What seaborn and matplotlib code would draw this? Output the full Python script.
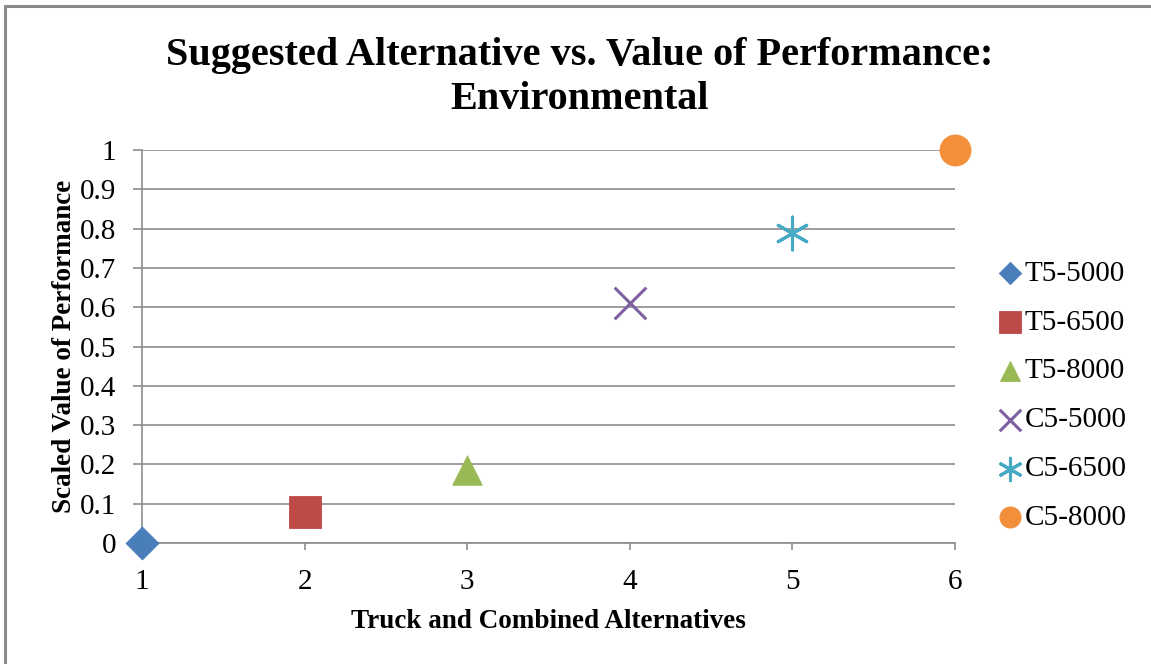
import matplotlib
matplotlib.use("Agg")
import matplotlib.pyplot as plt
from matplotlib.lines import Line2D
import seaborn as sns

# Alternatives and their scaled environmental performance values
alternatives = ["T5-5000", "T5-6500", "T5-8000", "C5-5000", "C5-6500", "C5-8000"]
alt_index = [1, 2, 3, 4, 5, 6]
scaled_value = [0.0, 0.08, 0.185, 0.61, 0.79, 1.0]

colors = ["#4A7EBB", "#BE4B48", "#98B954", "#7D60A0", "#46AAC5", "#F38E3A"]
markers = ["D", "s", "^", "x", (6, 2, 0), "o"]
sizes = [280, 500, 450, 520, 560, 500]

x_ticks = [1, 2, 3, 4, 5, 6]
y_ticks = [0, 0.1, 0.2, 0.3, 0.4, 0.5, 0.6, 0.7, 0.8, 0.9, 1]
y_tick_labels = ["0", "0.1", "0.2", "0.3", "0.4", "0.5", "0.6", "0.7", "0.8", "0.9", "1"]

sns.set_theme(style="white")
plt.rcParams["font.family"] = ["Liberation Serif", "DejaVu Serif"]
plt.rcParams["text.color"] = "black"
plt.rcParams["axes.labelcolor"] = "black"
plt.rcParams["xtick.color"] = "black"
plt.rcParams["ytick.color"] = "black"

fig = plt.figure(figsize=(11.51, 6.64), dpi=100)
ax = fig.add_axes([0.1234, 0.1822, 0.7063, 0.5919])

grid_color = "#8C8C8C"
for name, xv, yv, c, m, s in zip(alternatives, alt_index, scaled_value, colors, markers, sizes):
    line_art = m in ("x", (6, 2, 0))
    sns.scatterplot(
        x=[xv], y=[yv], ax=ax, marker=m, s=s, color=c,
        edgecolor=c, linewidth=2.2 if line_art else 0.6,
        label=name, zorder=5, clip_on=False,
    )

ax.set_xlim(1, 6)
ax.set_ylim(0, 1)
ax.set_xticks(x_ticks)
ax.set_yticks(y_ticks)
ax.set_yticklabels(y_tick_labels)
ax.yaxis.grid(True, color=grid_color, linewidth=1.2)
ax.xaxis.grid(False)
ax.set_axisbelow(True)

for side in ("top", "right"):
    ax.spines[side].set_visible(False)
for side in ("left", "bottom"):
    ax.spines[side].set_color(grid_color)
    ax.spines[side].set_linewidth(1.2)

ax.tick_params(axis="y", which="major", direction="out", length=6.5, width=1.2,
               color=grid_color, labelcolor="black", labelsize=21, pad=12, left=True)
ax.tick_params(axis="x", which="major", direction="out", length=5, width=1.2,
               color=grid_color, labelcolor="black", labelsize=21, pad=14, bottom=True)

ax.set_xlabel("Truck and Combined Alternatives", fontsize=19.5, fontweight="bold", labelpad=10)
ax.set_ylabel("Scaled Value of Performance", fontsize=19.5, fontweight="bold", labelpad=2)

fig.text(0.504, 0.883, "Suggested Alternative vs. Value of Performance:\nEnvironmental",
         ha="center", va="center", fontsize=29, fontweight="bold", linespacing=1.27)

leg = ax.legend(loc="center left", bbox_to_anchor=(1.032, 0.375), frameon=False,
                fontsize=21, markerscale=0.68, handletextpad=-0.1, labelspacing=0.77,
                handlelength=1.2, borderaxespad=0)

# Chart area border (top and left edges)
fig.add_artist(Line2D([0.0045, 1.0], [0.9905, 0.9905], transform=fig.transFigure,
                      color="#8A8A8A", linewidth=2.2))
fig.add_artist(Line2D([0.0045, 0.0045], [0.0, 0.9905], transform=fig.transFigure,
                      color="#8A8A8A", linewidth=2.2))

fig.savefig("out.png", dpi=100)
